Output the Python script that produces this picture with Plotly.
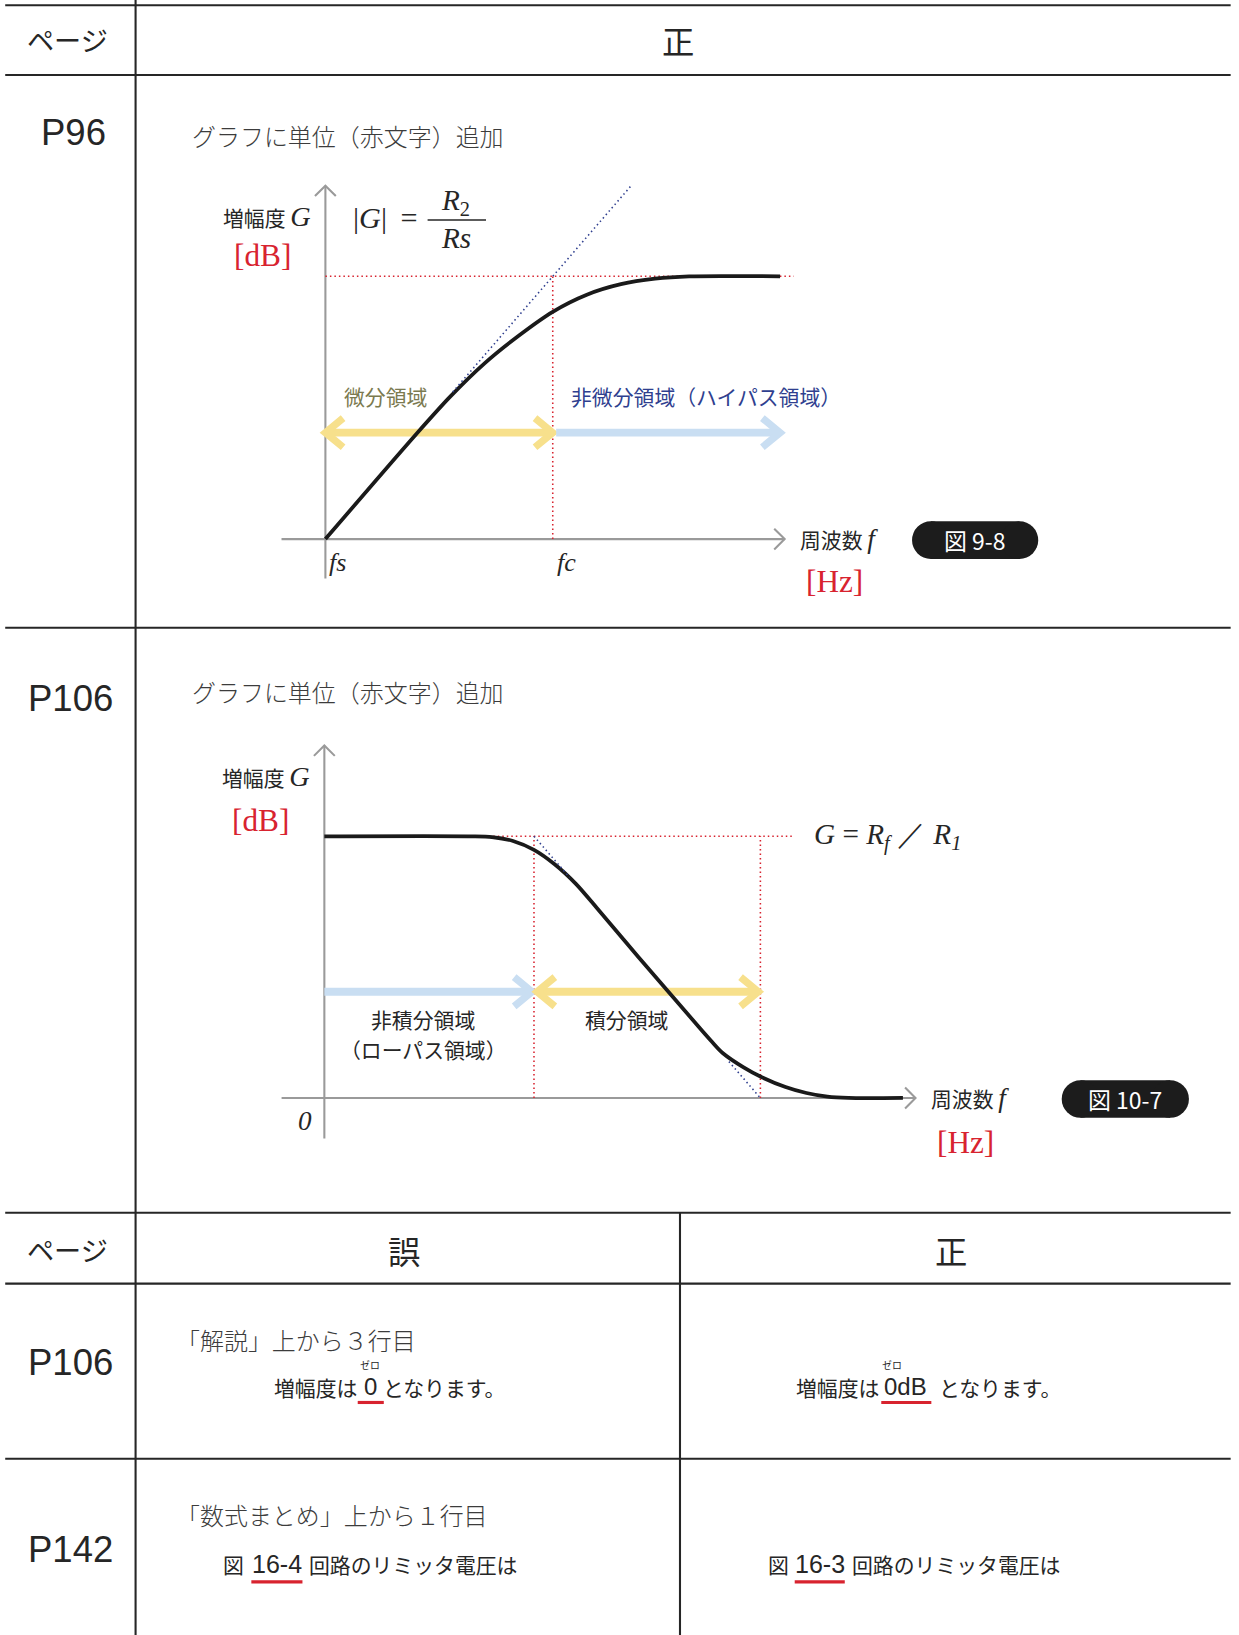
import plotly.graph_objects as go

W, H = 1239, 1635
PW, PH = 1188, 1568          # layout units (reference drawn at this scale)
K = W / PW                   # screen px per layout unit

SANS = "Noto Sans CJK JP"
SERIF = "Liberation Serif"
LATIN = "Liberation Sans"

INK = "#262626"
SOFT = "#3c3c3c"
AXIS_GRAY = "#9a9a9a"
RED = "#d8232f"
NAVY = "#2f3f8f"
OLIVE = "#7b7a4f"
YELLOW = "#f7e08c"
SKY = "#c9def2"

# ---------------- data ----------------
# P96 / 図 9-8 : high-pass response. frequency fs=0, fc=1 ; gain R2/Rs = 1
hp_freq = [0, 0.4, 0.55, 0.7, 0.85, 1.0, 1.15, 1.3, 1.45, 1.6, 2.0]
hp_gain = [0, 0.4, 0.543, 0.669, 0.774, 0.865, 0.93, 0.97, 0.991, 1.0, 1.0]
hp_asym_freq = [0.56, 1.35]
hp_asym_gain = [0.56, 1.35]
hp_tick_pos = [0.0, 1.0]
hp_tick_text = ["fs", "fc"]
hp_regions = [(0.0, 1.0), (1.015, 2.0)]
hp_level = 1.0

# P106 / 図 10-7 : low-pass response. corners f1=1, f2=2.08 ; gain Rf/R1 = 1
lp_freq = [0, 0.7, 0.8, 0.9, 1.0, 1.1, 1.2, 1.3, 1.5, 1.8, 1.85, 1.9, 2.0, 2.08, 2.2, 2.3, 2.4, 2.5, 2.76]
lp_gain = [1, 1, 0.997, 0.982, 0.948, 0.892, 0.818, 0.726, 0.537, 0.259, 0.214, 0.172, 0.117, 0.082, 0.042, 0.019, 0.005, 0, 0]
lp_corners = [1.0, 2.08]
lp_asym_freq = [[1.0, 1.17], [1.93, 2.08]]
lp_asym_gain = [[1.0, 0.843], [0.139, 0.0]]
lp_regions = [(0.0, 0.99), (1.015, 2.07)]
lp_level = 1.0

# (origin x, origin y, layout px per freq unit, per gain unit, freq range, gain range)
G1 = dict(ox=312, oy=517, sx=218, sy=252, xr=[-0.6, 2.6], yr=[-0.5, 1.6])
G2 = dict(ox=311, oy=1053, sx=201, sy=251, xr=[-0.6, 3.2], yr=[-0.5, 1.6])


def graph_axes(g):
    base = dict(visible=False, showgrid=False, zeroline=False, fixedrange=True)
    xd = [(g["ox"] + g["xr"][0] * g["sx"]) / PW, (g["ox"] + g["xr"][1] * g["sx"]) / PW]
    yd = [1 - (g["oy"] - g["yr"][0] * g["sy"]) / PH, 1 - (g["oy"] - g["yr"][1] * g["sy"]) / PH]
    return dict(domain=xd, range=g["xr"], **base), dict(domain=yd, range=g["yr"], **base)


def txt(x, y, s, size, color=INK, family=SANS, anchor="left", weight=None):
    f = dict(family=family, size=size * K, color=color)
    if weight:
        f["weight"] = weight
    return dict(xref="paper", yref="paper", x=x / PW, y=1 - y / PH, text=s, showarrow=False,
                xanchor=anchor, yanchor="middle", font=f)


def pline(x0, y0, x1, y1, color=INK, width=2, dash=None):
    return dict(type="line", xref="paper", yref="paper", x0=x0 / PW, x1=x1 / PW,
                y0=1 - y0 / PH, y1=1 - y1 / PH, line=dict(color=color, width=width * K, dash=dash))


def gline(ax, g, x0, y0, x1, y1, color, width, dash=None, layer="below"):
    return dict(type="line", xref="x" + ax, yref="y" + ax, x0=x0, x1=x1, y0=y0, y1=y1,
                line=dict(color=color, width=width * K, dash=dash), layer=layer)


def gpath(ax, pts, color, width):
    d = "M " + " L ".join(f"{a},{b}" for a, b in pts)
    return dict(type="path", xref="x" + ax, yref="y" + ax, path=d,
                line=dict(color=color, width=width * K), layer="below")


def region_arrow(ax, g, x0, x1, y, color, left, right):
    hx, hy = 17 / g["sx"], 14 / g["sy"]
    out = [gline(ax, g, x0 + (3 / g["sx"] if left else 0), y, x1 - (3 / g["sx"] if right else 0), y, color, 7.5)]
    if left:
        out.append(gpath(ax, [(x0 + hx, y + hy), (x0, y), (x0 + hx, y - hy)], color, 7))
    if right:
        out.append(gpath(ax, [(x1 - hx, y + hy), (x1, y), (x1 - hx, y - hy)], color, 7))
    return out


def axis_arrows(ax, g, xlo, xhi, ylo, yhi):
    a_x, a_y = 10 / g["sx"], 10 / g["sy"]
    return [
        gline(ax, g, 0, ylo, 0, yhi, AXIS_GRAY, 2),
        gline(ax, g, xlo, 0, xhi, 0, AXIS_GRAY, 2),
        gpath(ax, [(-a_x, yhi - a_y), (0, yhi), (a_x, yhi - a_y)], AXIS_GRAY, 2),
        gpath(ax, [(xhi - a_x, a_y), (xhi, 0), (xhi - a_x, -a_y)], AXIS_GRAY, 2),
    ]


def pill(cx, cy, w, h, label):
    r = h / 2
    shp = [
        dict(type="rect", xref="paper", yref="paper", x0=(cx - w / 2 + r) / PW, x1=(cx + w / 2 - r) / PW,
             y0=1 - (cy + r) / PH, y1=1 - (cy - r) / PH, fillcolor="#1c1c1c", line=dict(width=0)),
    ]
    for ex in (cx - w / 2 + r, cx + w / 2 - r):
        shp.append(dict(type="circle", xref="paper", yref="paper", x0=(ex - r) / PW, x1=(ex + r) / PW,
                        y0=1 - (cy + r) / PH, y1=1 - (cy - r) / PH, fillcolor="#1c1c1c", line=dict(width=0)))
    return shp, txt(cx, cy, label, 22, "white", SANS, "center")


def ital(s, size):
    return f"<span style='font-family:{SERIF};font-size:{size * K:.1f}px'><i>{s}</i></span>"


fig = go.Figure()
shapes, notes = [], []

# ---------------- curves ----------------
curve = dict(color="#1a1a1a", width=3.6 * K, shape="spline", smoothing=0.8)
dots = dict(color=NAVY, width=1.5 * K, dash="1.5px,3px")
fig.add_trace(go.Scatter(x=hp_freq, y=hp_gain, xaxis="x2", yaxis="y2", mode="lines",
                         line=curve, hoverinfo="skip"))
fig.add_trace(go.Scatter(x=hp_asym_freq, y=hp_asym_gain, xaxis="x2", yaxis="y2", mode="lines",
                         line=dots, hoverinfo="skip"))
fig.add_trace(go.Scatter(x=lp_freq, y=lp_gain, xaxis="x3", yaxis="y3", mode="lines",
                         line=curve, hoverinfo="skip"))
for fx, gy in zip(lp_asym_freq, lp_asym_gain):
    fig.add_trace(go.Scatter(x=fx, y=gy, xaxis="x3", yaxis="y3", mode="lines",
                             line=dots, hoverinfo="skip"))

# ---------------- graph 1 decorations ----------------
shapes += axis_arrows("2", G1, -0.193, 2.02, -0.15, 1.345)
shapes.append(gline("2", G1, 0, hp_level, 2.06, hp_level, RED, 1.5, "1.5px,3px"))
shapes.append(gline("2", G1, 1.0, 0, 1.0, hp_level, RED, 1.5, "1.5px,3px"))
arrow_y1 = 0.405
shapes += region_arrow("2", G1, hp_regions[0][0], hp_regions[0][1], arrow_y1, YELLOW, True, True)
shapes += region_arrow("2", G1, hp_regions[1][0], hp_regions[1][1], arrow_y1, SKY, False, True)
for p, t in zip(hp_tick_pos, hp_tick_text):
    notes.append(dict(xref="x2", yref="paper", x=p, y=1 - 539 / PH, xanchor="left", yanchor="middle",
                      xshift=2 * K, text=f"<i>{t}</i>", showarrow=False,
                      font=dict(family=SERIF, size=25 * K, color=INK)))

notes.append(txt(212, 208, "増幅度 " + ital("G", 27), 20))
notes.append(txt(252, 245, "[dB]", 30, RED, SERIF, "center"))
notes.append(txt(337, 209, "|<i>G</i>|&#8201; =", 29, INK, SERIF))
notes.append(txt(437, 194, "<i>R</i><sub>2</sub>", 28, INK, SERIF, "center"))
notes.append(txt(437, 228, "<i>Rs</i>", 28, INK, SERIF, "center"))
shapes.append(pline(410, 211, 466, 211, INK, 1.3))
notes.append(txt(370, 380, "微分領域", 20, OLIVE, SANS, "center"))
notes.append(txt(546, 380, "非微分領域（ハイパス領域）", 20, NAVY))
notes.append(txt(765, 517, "周波数 " + ital("f", 26), 20))
notes.append(txt(800, 558, "[Hz]", 30, RED, SERIF, "center"))
s, a = pill(935, 518, 121, 36, "図 9-8")
shapes += s
notes.append(a)

# ---------------- graph 2 decorations ----------------
shapes += axis_arrows("3", G2, -0.204, 2.82, -0.155, 1.347)
shapes.append(gline("3", G2, 0.72, lp_level, 2.24, lp_level, RED, 1.5, "1.5px,3px"))
for c in lp_corners:
    shapes.append(gline("3", G2, c, 0, c, lp_level, RED, 1.5, "1.5px,3px"))
arrow_y2 = 0.406
shapes += region_arrow("3", G2, lp_regions[0][0], lp_regions[0][1], arrow_y2, SKY, False, True)
shapes += region_arrow("3", G2, lp_regions[1][0], lp_regions[1][1], arrow_y2, YELLOW, True, True)

notes.append(txt(211, 745, "増幅度 " + ital("G", 27), 20))
notes.append(txt(250, 787, "[dB]", 30, RED, SERIF, "center"))
notes.append(txt(779, 802, "<i>G</i> = <i>R<sub>f</sub></i> ／ <i>R<sub>1</sub></i>", 28, INK, SERIF))
notes.append(txt(292, 1075, "<i>0</i>", 26, INK, SERIF, "center"))
notes.append(txt(406, 977, "非積分領域", 20, INK, SANS, "center"))
notes.append(txt(406, 1006, "（ローパス領域）", 20, INK, SANS, "center"))
notes.append(txt(601, 977, "積分領域", 20, INK, SANS, "center"))
notes.append(txt(891, 1053, "周波数 " + ital("f", 26), 20))
notes.append(txt(926, 1096, "[Hz]", 30, RED, SERIF, "center"))
s, a = pill(1079, 1054, 122, 36, "図 10-7")
shapes += s
notes.append(a)

# ---------------- tables ----------------
for y in (5, 72, 602, 1163, 1231, 1399):
    shapes.append(pline(5, y, 1180, y))
shapes.append(pline(130, 0, 130, PH))
shapes.append(pline(652, 1163, 652, PH))

notes.append(txt(65, 38, "ページ", 26, INK, SANS, "center"))
notes.append(txt(650, 38, "正", 31, INK, SANS, "center"))
notes.append(txt(70, 127, "P96", 35, INK, LATIN, "center"))
notes.append(txt(182, 130, "グラフに単位（赤文字）追加", 23, SOFT, SANS, weight=300))
notes.append(txt(68, 670, "P106", 35, INK, LATIN, "center"))
notes.append(txt(182, 663, "グラフに単位（赤文字）追加", 23, SOFT, SANS, weight=300))

notes.append(txt(65, 1198, "ページ", 26, INK, SANS, "center"))
notes.append(txt(387, 1198, "誤", 31, INK, SANS, "center"))
notes.append(txt(912, 1198, "正", 31, INK, SANS, "center"))
notes.append(txt(68, 1307, "P106", 35, INK, LATIN, "center"))
notes.append(txt(68, 1486, "P142", 35, INK, LATIN, "center"))

notes.append(txt(167, 1285, "「解説」上から３行目", 23, SOFT, SANS, weight=300))
notes.append(txt(344, 1330, "増幅度は", 20, INK, SANS, "right"))
notes.append(txt(355.5, 1330, "0", 23, INK, LATIN, "center"))
notes.append(txt(365, 1330, "となります。", 20))
notes.append(txt(355, 1309, "ゼロ", 9.5, INK, SANS, "center"))
shapes.append(pline(343, 1345, 368, 1345, RED, 3))
notes.append(txt(845, 1330, "増幅度は", 20, INK, SANS, "right"))
notes.append(txt(846, 1330, "0dB", 23, INK, LATIN))
notes.append(txt(898, 1330, "となります。", 20))
notes.append(txt(855, 1309, "ゼロ", 9.5, INK, SANS, "center"))
shapes.append(pline(845, 1345, 893, 1345, RED, 3))

notes.append(txt(167, 1452, "「数式まとめ」上から１行目", 23, SOFT, SANS, weight=300))
notes.append(txt(212, 1500, "図", 20))
notes.append(txt(265.5, 1500, "16-4", 24, INK, LATIN, "center"))
notes.append(txt(294, 1500, "回路のリミッタ電圧は", 20))
shapes.append(pline(241, 1517, 290, 1517, RED, 3))
notes.append(txt(734, 1500, "図", 20))
notes.append(txt(786, 1500, "16-3", 24, INK, LATIN, "center"))
notes.append(txt(815, 1500, "回路のリミッタ電圧は", 20))
shapes.append(pline(762, 1517, 810, 1517, RED, 3))

x2, y2 = graph_axes(G1)
x3, y3 = graph_axes(G2)
fig.update_layout(
    width=W, height=H,
    margin=dict(l=0, r=0, t=0, b=0),
    paper_bgcolor="white", plot_bgcolor="rgba(0,0,0,0)",
    showlegend=False,
    xaxis=dict(visible=False), yaxis=dict(visible=False),
    xaxis2=dict(anchor="y2", **x2), yaxis2=dict(anchor="x2", **y2),
    xaxis3=dict(anchor="y3", **x3), yaxis3=dict(anchor="x3", **y3),
    shapes=shapes, annotations=notes,
)

fig.write_html("out.html", config={"displayModeBar": False},
               post_script="document.body.style.margin='0';")
